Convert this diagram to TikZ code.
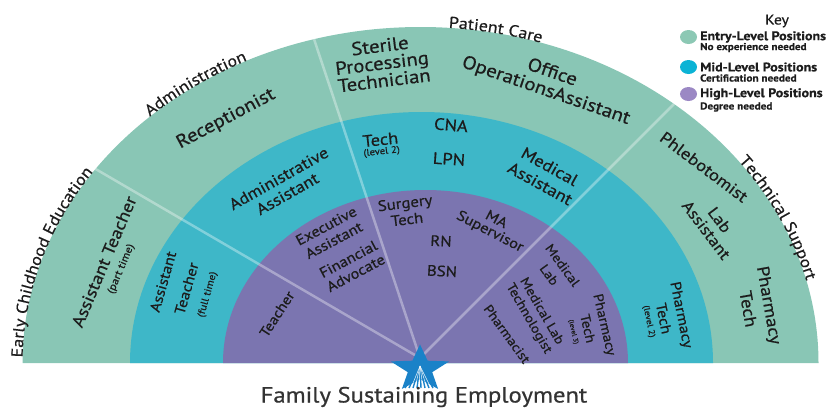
\documentclass[tikz,border=0pt]{standalone}
\usepackage{fontspec}
\setmainfont[FakeStretch=1.12, FakeBold=0.6]{PT Sans}
\usetikzlibrary{decorations.text,shapes.geometric}

\definecolor{entry}{HTML}{89C6B5}
\definecolor{midlevel}{HTML}{3EB7C8}
\definecolor{highlevel}{HTML}{7B75B0}
\definecolor{keyentry}{HTML}{8CC8B4}
\definecolor{keymid}{HTML}{0BB3D5}
\definecolor{keyhigh}{HTML}{9B88C4}
\definecolor{starblue}{HTML}{1A82C8}
\definecolor{ink}{HTML}{1C1C1C}
\definecolor{titlegray}{HTML}{333333}

\newcommand\setfs[2]{\fontsize{#1}{#2}\selectfont}
\newcommand\subtxt[2]{{\fontsize{#1}{#1}\selectfont #2}}

\begin{document}
\begin{tikzpicture}[x=1pt,y=-1pt,
  lbl/.style={text=ink, align=center, inner sep=0pt},
  entrylbl/.style={lbl, font=\setfs{18.5}{18.5}},
  midlbl/.style={lbl, font=\setfs{16.5}{18}},
  highlbl/.style={lbl, font=\setfs{14.5}{16}},
  divider/.style={white, opacity=0.35, line width=2.5pt},
  arclabel/.style={decorate, decoration={text along path, text align=center,
      text color=ink, text={|\setfs{16}{16}|#1}}},
  keydot/.style={ellipse, minimum width=17pt, minimum height=14pt, inner sep=0pt},
  keyhead/.style={anchor=west, text=ink, inner sep=0pt, font=\bfseries\setfs{12.5}{12.5}},
  keysub/.style={anchor=west, text=ink, inner sep=0pt, font=\bfseries\setfs{10}{10}}]

\useasboundingbox (0,0) rectangle (830,410);

% three half rings
\fill[entry] (22.5,363) arc[start angle=180,end angle=360,x radius=398,y radius=336] -- cycle;
\fill[midlevel] (130,363) arc[start angle=180,end angle=360,x radius=291.5,y radius=251] -- cycle;
\fill[highlevel] (223,363) arc[start angle=180,end angle=360,x radius=202.5,y radius=173] -- cycle;

% sector dividers
\coordinate (hub) at (420,358);
\coordinate (edgeA) at (87,164);
\coordinate (edgeB) at (311,30);
\coordinate (edgeC) at (682,96);
\begin{scope}
  \clip (22.5,363) arc[start angle=180,end angle=360,x radius=398,y radius=336] -- cycle;
  \draw[divider] (hub) -- (edgeA) (hub) -- (edgeB) (hub) -- (edgeC);
\end{scope}

% star at the hub
\fill[starblue] (420,344.4) -- (427.6,360.7) -- (449.2,361.4) -- (432.2,372.2)
  -- (438.1,388.9) -- (420,379.3) -- (401.9,388.9) -- (407.8,372.2)
  -- (390.8,361.4) -- (412.4,360.7) -- cycle;
\foreach \bx in {405,409,...,435} \draw[starblue, line width=1.4pt] (420,365) -- (\bx,388);
\foreach \bx in {411,415,...,431} \draw[white, line width=0.5pt, opacity=0.9] (420,366) -- (\bx,388);

% sector names along the rim
\path[arclabel={Early Childhood Education}] (420.5,363) ++(172.5:398 and 336)
  arc[start angle=172.5,end angle=222.5,x radius=398,y radius=336];
\path[arclabel={Administration}] (420.5,363) ++(210:398 and 336)
  arc[start angle=210,end angle=260,x radius=398,y radius=336];
\path[arclabel={Patient Care}] (420.5,363) ++(261:398 and 336)
  arc[start angle=261,end angle=301,x radius=398,y radius=336];
\path[arclabel={Technical Support}] (420.5,363) ++(310:398 and 336)
  arc[start angle=310,end angle=360,x radius=398,y radius=336];

% entry-level ring
\node[entrylbl, font=\setfs{17}{15.4}, rotate=67] (asstpart) at (112,265)
  {Assistant Teacher\\\subtxt{10.5}{(part time)}};
\node[entrylbl, rotate=28] (recep) at (226,119) {Receptionist};
\node[entrylbl, font=\setfs{18.5}{17.5}, rotate=7] (sterile) at (382,63)
  {Sterile\\Processing\\Technician};
\node[entrylbl, font=\setfs{18.5}{19}, rotate=-19] (office) at (549,82)
  {Office\\OperationsAssistant};
\node[entrylbl, font=\setfs{16.5}{16.5}, rotate=-37] (phleb) at (704,167) {Phlebotomist};
\node[entrylbl, font=\setfs{16}{16.8}, rotate=-53] (labasst) at (713,225) {Lab\\Assistant};
\node[entrylbl, font=\setfs{17}{21.5}, rotate=-80] (pharmtech) at (759,307) {Pharmacy\\Tech};

% mid-level ring
\node[midlbl, font=\setfs{14.5}{18}, rotate=74] (asstfull) at (185,288)
  {Assistant\\[6.5pt]Teacher\\[1.5pt]\subtxt{10}{(full time)}};
\node[midlbl, font=\setfs{16}{17.7}, rotate=29.5] (admin) at (283,186)
  {Administrative\\Assistant};
\node[midlbl, font=\setfs{16.5}{9}, rotate=6] (tech2) at (381,145)
  {Tech\\\subtxt{9.5}{(level 2)}};
\node[midlbl, rotate=-5] (cna) at (451,125) {CNA};
\node[midlbl, rotate=-4] (lpn) at (449,159) {LPN};
\node[midlbl, font=\setfs{16.5}{19.5}, rotate=-29] (medasst) at (545,175)
  {Medical\\Assistant};
\node[midlbl, font=\setfs{14.5}{18.5}, rotate=-78.5] (pharm2) at (666,318)
  {Pharmacy\\Tech\\[-6pt]\subtxt{8.5}{(level 2)}};

% high-level ring
\node[highlbl, font=\setfs{14}{14}, rotate=57] (teacher) at (277,314) {Teacher};
\node[highlbl, font=\setfs{14.5}{16.4}, rotate=28] (exec) at (330,233) {Executive\\Assistant};
\node[highlbl, font=\setfs{14.5}{15.8}, rotate=28] (finadv) at (352,266) {Financial\\Advocate};
\node[highlbl, font=\setfs{15}{16.5}, rotate=7] (surg) at (406,211) {Surgery\\Tech};
\node[highlbl, font=\setfs{15}{15}, rotate=-3] (rn) at (441,241) {RN};
\node[highlbl, font=\setfs{15}{15}, rotate=-3] (bsn) at (442,271) {BSN};
\node[highlbl, font=\setfs{14.5}{13.5}, rotate=-27.5] (masup) at (493,226) {MA\\Supervisor};
\node[highlbl, font=\setfs{13}{16.5}, rotate=-54] (medlab) at (556,270) {Medical\\Lab};
\node[highlbl, font=\setfs{13}{14.7}, rotate=-60] (mlt) at (535,315) {Medical Lab\\Technologist};
\node[highlbl, font=\setfs{13}{13}, rotate=-54] (pharmacist) at (507,334) {Pharmacist};
\node[highlbl, font=\setfs{13.5}{17.5}, rotate=-77] (pharm3) at (590,328)
  {Pharmacy\\Tech\\[-5.5pt]\subtxt{6.5}{(level 3)}};

% caption
\node[font=\setfs{22}{22}, text=titlegray, inner sep=0pt] (caption) at (424,397)
  {Family Sustaining Employment};

% key
\node[font=\setfs{14}{14}, text=ink, inner sep=0pt] (keytitle) at (777,21) {Key};
\node[keydot, fill=keyentry] (dotentry) at (688.5,37) {};
\node[keydot, fill=keymid] (dotmid) at (688.5,67) {};
\node[keydot, fill=keyhigh] (dothigh) at (688.5,94) {};
\node[keyhead] (headentry) at (700,37) {Entry-Level Positions};
\node[keysub] (subentry) at (700,47.5) {No experience needed};
\node[keyhead] (headmid) at (700,67) {Mid-Level Positions};
\node[keysub] (submid) at (700,78) {Certification needed};
\node[keyhead] (headhigh) at (700,94) {High-Level Positions};
\node[keysub] (subhigh) at (700,107) {Degree needed};
\end{tikzpicture}
\end{document}
